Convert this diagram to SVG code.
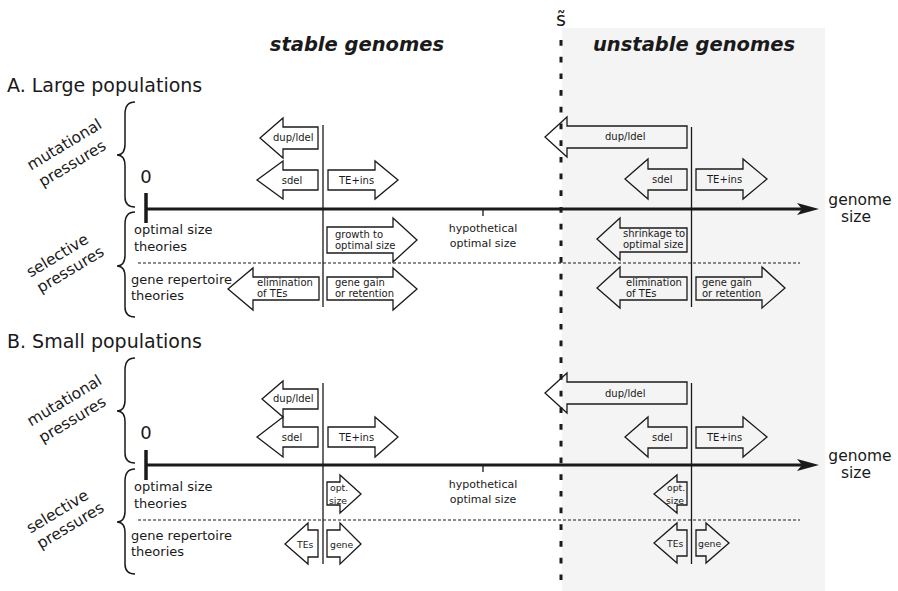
<svg xmlns="http://www.w3.org/2000/svg" width="898" height="591" viewBox="0 0 898 591">
<style>
text{font-family:"DejaVu Sans","Liberation Sans",sans-serif;fill:#1a1a1a}
.title{font-size:19px}
.head{font-size:19.5px;font-weight:bold;font-style:italic;text-anchor:middle}
.side{font-size:15.5px;text-anchor:middle}
.th{font-size:13px}
.lab{font-size:10px}
.lbc{font-size:10px;text-anchor:middle}
.sm{font-size:9.3px}
.hyp{font-size:11px;text-anchor:middle}
.gs{font-size:15.5px;text-anchor:middle}
.zero{font-size:18px;text-anchor:middle}
.arr{fill:none;stroke:#1a1a1a;stroke-width:1.3;stroke-linejoin:miter}
.brace{fill:none;stroke:#1a1a1a;stroke-width:1.5}
.axis{stroke:#1a1a1a;stroke-width:3;fill:none}
.tick{stroke:#1a1a1a;stroke-width:3.5}
.vl{stroke:#1a1a1a;stroke-width:1.3}
.dot{stroke:#1a1a1a;stroke-width:1.2;stroke-dasharray:3 2}
</style>
<rect x="562" y="28" width="263" height="563" fill="#f4f4f4"/>
<g id="headers">
<text class="head" x="357" y="51">stable genomes</text>
<text class="head" x="694" y="51">unstable genomes</text>
<text x="561" y="26" style="font-size:19px;text-anchor:middle">s̃</text>
</g>
<g id="threshold">
<line x1="561" y1="40" x2="561" y2="591" stroke="#1a1a1a" stroke-width="3" stroke-dasharray="5.7 11"/>
</g>

<!-- Section A -->
<g id="sectionA">
<text class="title" x="7" y="92">A. Large populations</text>
<path class="brace" d="M135,102 C128,102 125,106 125,114 L125,144 C125,151 122,155 117,155 C122,155 125,159 125,166 L125,197 C125,204 128,207 135,207"/>
<path class="brace" d="M135,212 C128,212 125,216 125,224 L125,255 C125,262 122,266 117,266 C122,266 125,270 125,277 L125,307 C125,314 128,317 135,317"/>
<text class="side" transform="translate(67,149) rotate(-31)">mutational</text>
<text class="side" transform="translate(75,168) rotate(-31)">pressures</text>
<text class="side" transform="translate(60,260) rotate(-31)">selective</text>
<text class="side" transform="translate(73,274) rotate(-31)">pressures</text>
<text class="th" x="134" y="234">optimal size</text>
<text class="th" x="134" y="251">theories</text>
<text class="th" x="131" y="284">gene repertoire</text>
<text class="th" x="131" y="300">theories</text>
<text class="zero" x="146" y="183">0</text>
<text class="hyp" x="483" y="232">hypothetical</text>
<text class="hyp" x="483" y="247">optimal size</text>
<text class="gs" x="860" y="205">genome</text>
<text class="gs" x="856" y="222">size</text>
</g>
<g id="axisA">
<line class="axis" x1="146" y1="209" x2="803" y2="209"/>
<path d="M797,203 L819,209 L797,215 L802,209 Z" fill="#1a1a1a"/>
<line class="tick" x1="146" y1="193" x2="146" y2="223"/>
<line class="vl" x1="483" y1="209" x2="483" y2="216"/>
<line class="dot" x1="138" y1="263" x2="800" y2="263"/>
<line class="vl" x1="323" y1="125" x2="323" y2="307"/>
<line class="vl" x1="691.5" y1="127" x2="691.5" y2="307"/>
</g>
<g id="A-stable-dup"><polygon class="arr" points="260,138 283,118 283,127 318,127 318,149 283,149 283,158"/><text class="lab" x="273" y="141">dup/ldel</text></g>
<g id="A-stable-sdel"><polygon class="arr" points="257,180 283,161 283,170 318,170 318,190 283,190 283,199"/><text class="lbc" x="292" y="184">sdel</text></g>
<g id="A-stable-te"><polygon class="arr" points="398,180 375,161 375,170 328,170 328,190 375,190 375,199"/><text class="lab" x="339" y="184">TE+ins</text></g>
<g id="A-stable-growth"><polygon class="arr" points="417,240 393,218 393,227 327,227 327,253 393,253 393,262"/><text class="lab" x="335" y="238">growth to</text><text class="lab" x="335" y="249">optimal size</text></g>
<g id="A-stable-elim"><polygon class="arr" points="228,289 253,268 253,277 319,277 319,300 253,300 253,310"/><text class="lab" x="257" y="286">elimination</text><text class="lab" x="257" y="297">of TEs</text></g>
<g id="A-stable-gene"><polygon class="arr" points="417,289 393,268 393,277 327,277 327,300 393,300 393,310"/><text class="lab" x="335" y="286">gene gain</text><text class="lab" x="335" y="297">or retention</text></g>
<g id="A-unstable-dup"><polygon class="arr" points="545,137 567,117 567,126 687,126 687,148 567,148 567,157"/><text class="lab" x="605" y="140">dup/ldel</text></g>
<g id="A-unstable-sdel"><polygon class="arr" points="625,179 648,159 648,169 687,169 687,190 648,190 648,199"/><text class="lab" x="652" y="183">sdel</text></g>
<g id="A-unstable-te"><polygon class="arr" points="767,179 743,159 743,169 696,169 696,190 743,190 743,199"/><text class="lab" x="707" y="183">TE+ins</text></g>
<g id="A-unstable-shrink"><polygon class="arr" points="597,239 620,218 620,228 687,228 687,252 620,252 620,260"/><text class="lab" x="623" y="237">shrinkage to</text><text class="lab" x="623" y="248">optimal size</text></g>
<g id="A-unstable-elim"><polygon class="arr" points="597,288 620,267 620,277 687,277 687,300 620,300 620,308"/><text class="lab" x="626" y="286">elimination</text><text class="lab" x="626" y="297">of TEs</text></g>
<g id="A-unstable-gene"><polygon class="arr" points="785,288 762,267 762,277 696,277 696,300 762,300 762,308"/><text class="lab" x="702" y="286">gene gain</text><text class="lab" x="702" y="297">or retention</text></g>

<!-- Section B -->
<g id="sectionB">
<text class="title" x="7" y="348">B. Small populations</text>
<path class="brace" d="M135,358 C128,358 125,362 125,370 L125,400 C125,407 122,411 117,411 C122,411 125,415 125,422 L125,453 C125,460 128,463 135,463"/>
<path class="brace" d="M135,469 C128,469 125,473 125,481 L125,511 C125,518 122,522 117,522 C122,522 125,526 125,533 L125,564 C125,571 128,574 135,574"/>
<text class="side" transform="translate(67,405) rotate(-31)">mutational</text>
<text class="side" transform="translate(75,424) rotate(-31)">pressures</text>
<text class="side" transform="translate(60,516) rotate(-31)">selective</text>
<text class="side" transform="translate(73,530) rotate(-31)">pressures</text>
<text class="th" x="134" y="491">optimal size</text>
<text class="th" x="134" y="508">theories</text>
<text class="th" x="131" y="540">gene repertoire</text>
<text class="th" x="131" y="556">theories</text>
<text class="zero" x="146" y="439">0</text>
<text class="hyp" x="483" y="488">hypothetical</text>
<text class="hyp" x="483" y="503">optimal size</text>
<text class="gs" x="860" y="461">genome</text>
<text class="gs" x="856" y="478">size</text>
</g>
<g id="axisB">
<line class="axis" x1="146" y1="465" x2="803" y2="465"/>
<path d="M797,459 L819,465 L797,471 L802,465 Z" fill="#1a1a1a"/>
<line class="tick" x1="146" y1="450" x2="146" y2="480"/>
<line class="vl" x1="483" y1="465" x2="483" y2="472"/>
<line class="dot" x1="138" y1="520" x2="800" y2="520"/>
<line class="vl" x1="323" y1="383" x2="323" y2="564"/>
<line class="vl" x1="691.5" y1="383" x2="691.5" y2="564"/>
</g>
<g id="B-stable-dup"><polygon class="arr" points="262,399 283,381 283,389 318,389 318,409 283,409 283,417"/><text class="lab" x="273" y="402">dup/ldel</text></g>
<g id="B-stable-sdel"><polygon class="arr" points="257,437 283,417 283,427 318,427 318,447 283,447 283,457"/><text class="lbc" x="292" y="441">sdel</text></g>
<g id="B-stable-te"><polygon class="arr" points="398,437 375,417 375,427 328,427 328,447 375,447 375,457"/><text class="lab" x="339" y="441">TE+ins</text></g>
<g id="B-stable-opt"><polygon class="arr" points="361,494 340,475 340,482 327,482 327,505 340,505 340,513"/><text class="sm" x="330" y="491">opt.</text><text class="sm" x="329" y="504">size</text></g>
<g id="B-stable-tes"><polygon class="arr" points="285,544 308,523 308,530 318,530 318,557 308,557 308,564"/><text class="sm" x="297" y="548">TEs</text></g>
<g id="B-stable-gene"><polygon class="arr" points="361,544 340,523 340,530 327,530 327,557 340,557 340,564"/><text class="sm" x="330" y="548">gene</text></g>
<g id="B-unstable-dup"><polygon class="arr" points="545,393 567,373 567,382 687,382 687,404 567,404 567,413"/><text class="lab" x="605" y="397">dup/ldel</text></g>
<g id="B-unstable-sdel"><polygon class="arr" points="625,437 648,417 648,427 687,427 687,448 648,448 648,457"/><text class="lab" x="652" y="441">sdel</text></g>
<g id="B-unstable-te"><polygon class="arr" points="767,437 743,417 743,427 696,427 696,448 743,448 743,457"/><text class="lab" x="707" y="441">TE+ins</text></g>
<g id="B-unstable-opt"><polygon class="arr" points="654,494 677,475 677,482 687,482 687,505 677,505 677,513"/><text class="sm" x="667" y="491">opt.</text><text class="sm" x="666" y="504">size</text></g>
<g id="B-unstable-tes"><polygon class="arr" points="654,543 677,523 677,530 687,530 687,556 677,556 677,563"/><text class="sm" x="667" y="547">TEs</text></g>
<g id="B-unstable-gene"><polygon class="arr" points="729,543 706,523 706,530 696,530 696,556 706,556 706,563"/><text class="sm" x="698" y="547">gene</text></g>
</svg>
